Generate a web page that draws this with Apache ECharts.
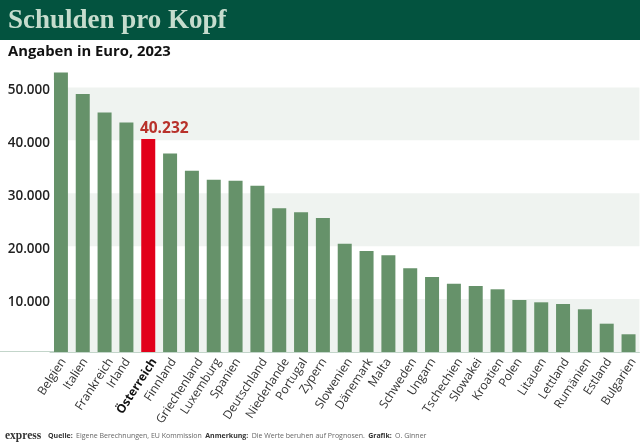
<!DOCTYPE html>
<html>
<head>
<meta charset="utf-8">
<style>
  html, body { margin: 0; padding: 0; background: #fff; }
  #main { width: 640px; height: 445px; }
</style>
<script src="https://cdn.jsdelivr.net/npm/echarts@6/dist/echarts.min.js"></script>
</head>
<body>
<div id="main"></div>
<script>
// Werte
var laender = ['Belgien', 'Italien', 'Frankreich', 'Irland', 'Österreich', 'Finnland', 'Griechenland',
  'Luxemburg', 'Spanien', 'Deutschland', 'Niederlande', 'Portugal', 'Zypern', 'Slowenien', 'Dänemark',
  'Malta', 'Schweden', 'Ungarn', 'Tschechien', 'Slowakei', 'Kroatien', 'Polen', 'Litauen', 'Lettland',
  'Rumänien', 'Estland', 'Bulgarien'];
var schulden = [52800, 48770, 45240, 43350, 40232, 37490, 34270, 32570, 32380, 31440, 27160, 26410, 25330,
  20470, 19090, 18280, 15820, 14180, 12910, 12480, 11850, 9830, 9390, 9070, 8070, 5350, 3350];
var highlight = 'Österreich';
var highlightLabel = '40.232';
var yMax = 60000;
var yTick = 10000;

var sans = '"Open Sans", "Noto Sans", sans-serif';
var winkel = 57;

var myChart = echarts.init(document.getElementById('main'));

// im Original rutschen lange Namen nach rechts, daher je Name ein eigener rich-Stil
var rad = winkel * Math.PI / 180;
var labelRich = {};
laender.forEach(function (name, i) {
  var d = Math.max(0, (name.length - 5) * 1.2);
  var c = 6.5;
  var p = d * Math.sin(rad) + c * Math.cos(rad);
  var q = Math.max(0, c * Math.sin(rad) - d * Math.cos(rad));
  labelRich['l' + i] = {
    fontFamily: sans,
    fontSize: 12,
    fontWeight: name === highlight ? 'bold' : 'normal',
    color: name === highlight ? '#111' : '#333',
    padding: [2 * p, q, 0, 0]
  };
});

var option = {
  animation: false,
  backgroundColor: '#fff',
  graphic: [
    { type: 'rect', z: 10, shape: { x: 0, y: 0, width: 640, height: 40 }, style: { fill: '#03533f' } },
    { type: 'rect', z: 10, shape: { x: 50, y: 80, width: 4, height: 271 }, style: { fill: '#fff' } },
    { type: 'line', z: 10, shape: { x1: 0, y1: 351.5, x2: 54, y2: 351.5 }, style: { stroke: '#c3d5ca', lineWidth: 1 } },
    { type: 'text', z: 11, x: 8, y: 21, style: { text: 'Schulden pro Kopf', fill: '#c5dccd', font: 'bold 27px "Liberation Serif", serif', textVerticalAlign: 'middle' } },
    { type: 'text', z: 11, x: 8, y: 52, style: { text: 'Angaben in Euro, 2023', fill: '#111', font: 'bold 14.8px ' + sans, textVerticalAlign: 'middle' } },
    { type: 'text', z: 11, x: 5, y: 436, style: { text: 'express', fill: '#333', font: 'bold 11.5px "Liberation Serif", serif', textVerticalAlign: 'middle' } },
    { type: 'text', z: 11, x: 48, y: 436, style: {
      rich: {
        b: { font: 'bold 7px ' + sans, fill: '#333' },
        n: { font: '7px ' + sans, fill: '#666' }
      },
      text: '{b|Quelle:} {n|Eigene Berechnungen, EU Kommission} {b|Anmerkung:} {n|Die Werte beruhen auf Prognosen.} {b|Grafik:} {n|O. Ginner}',
      textVerticalAlign: 'middle'
    } }
  ],
  grid: { left: 50, right: 0, top: 34.5, bottom: 93, containLabel: false },
  xAxis: {
    type: 'category',
    data: laender,
    axisLine: { show: true, lineStyle: { color: '#c3d5ca', width: 1 } },
    axisTick: { show: false },
    axisLabel: {
      interval: 0,
      rotate: winkel,
      margin: 1,
      fontFamily: sans,
      fontSize: 12,
      color: '#333',
      formatter: function (v) {
        return '{l' + laender.indexOf(v) + '|' + v + '}';
      },
      rich: labelRich
    }
  },
  yAxis: {
    type: 'value',
    min: 0,
    max: yMax,
    interval: yTick,
    axisLine: { show: false },
    axisTick: { show: false },
    splitLine: { show: false },
    splitArea: { show: true, areaStyle: { color: ['#eff3f0', 'rgba(0,0,0,0)', '#eff3f0', 'rgba(0,0,0,0)', '#eff3f0', 'rgba(0,0,0,0)'] } },
    axisLabel: {
      margin: 0,
      fontFamily: sans,
      fontSize: 13.5,
      fontWeight: 600,
      color: '#222',
      verticalAlign: 'top',
      lineHeight: 6,
      formatter: function (v) {
        if (v === 0 || v === yMax) return '';
        return String(v / 1000) + '.000';
      }
    }
  },
  series: [{
    type: 'bar',
    data: schulden.map(function (v, i) {
      var on = laender[i] === highlight;
      return {
        value: v,
        itemStyle: { color: on ? '#e2001a' : '#66926a' },
        label: on ? {
          show: true,
          position: 'top',
          distance: 3,
          formatter: highlightLabel,
          fontFamily: sans,
          fontSize: 15.5,
          fontWeight: 'bold',
          color: '#b8312a',
          offset: [16, 0]
        } : { show: false }
      };
    }),
    barWidth: 14
  }]
};

myChart.setOption(option);
</script>
</body>
</html>
